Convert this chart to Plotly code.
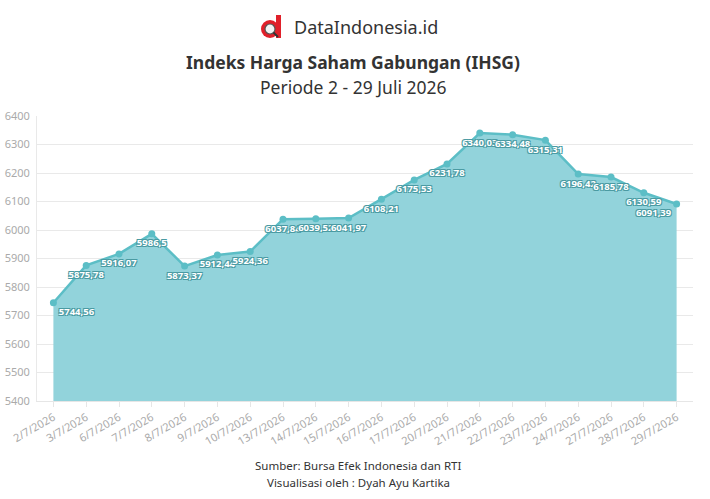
import plotly.graph_objects as go

dates = ["2/7/2026", "3/7/2026", "6/7/2026", "7/7/2026", "8/7/2026", "9/7/2026",
         "10/7/2026", "13/7/2026", "14/7/2026", "15/7/2026", "16/7/2026", "17/7/2026",
         "20/7/2026", "21/7/2026", "22/7/2026", "23/7/2026", "24/7/2026", "27/7/2026",
         "28/7/2026", "29/7/2026"]
ihsg = [5744.56, 5875.78, 5916.07, 5986.5, 5873.37, 5912.44, 5924.36, 6037.84,
        6039.52, 6041.97, 6108.21, 6175.53, 6231.78, 6340.03, 6334.48, 6315.31,
        6196.42, 6185.78, 6130.59, 6091.39]
y_ticks = [5400, 5500, 5600, 5700, 5800, 5900, 6000, 6100, 6200, 6300, 6400]

def fmt(v):
    s = ("%.2f" % v).rstrip("0").rstrip(".")
    return s.replace(".", ",")

labels = [fmt(v) for v in ihsg]
positions = ["bottom right"] + ["bottom center"] * (len(ihsg) - 2) + ["bottom left"]

FILL = "rgb(146,211,219)"
LINE = "rgb(92,190,198)"

L, R, T, B = 37, 17, 116, 98
W, H = 710, 499

fig = go.Figure()
fig.add_trace(go.Scatter(
    x=dates, y=ihsg, mode="lines+markers+text",
    fill="tozeroy", fillcolor=FILL,
    line=dict(color=LINE, width=2.5),
    marker=dict(color=LINE, size=7),
    text=labels, textposition=positions,
    textfont=dict(family="Noto Sans", size=9.5, color="white", weight="bold",
                  shadow="1px 1px 0 #4a9aa2, -1px -1px 0 #4a9aa2, 1px -1px 0 #4a9aa2, -1px 1px 0 #4a9aa2"),
    cliponaxis=False, showlegend=False, hoverinfo="skip",
))

fig.update_layout(
    width=W, height=H,
    margin=dict(l=L, r=R, t=T, b=B),
    paper_bgcolor="white", plot_bgcolor="white",
    font=dict(family="Noto Sans", color="#333"),
    xaxis=dict(
        type="category", range=[-0.5, len(dates) - 0.5], automargin=False,
        tickangle=-30, tickfont=dict(size=11, color="#aaa"),
        showgrid=False, showline=True, linecolor="#e6e6e6", linewidth=1,
        ticks="outside", ticklen=5, tickcolor="#e6e6e6",
    ),
    yaxis=dict(
        range=[5400, 6400], tickvals=y_ticks, automargin=False,
        tickfont=dict(size=11, color="#aaa"),
        showgrid=True, gridcolor="#e9e9e9", gridwidth=1,
        showline=True, linecolor="#e9e9e9", zeroline=False,
        ticklabelstandoff=4,
    ),
)

def px(xp):
    return (xp - L) / (W - L - R)

def py(yp):
    return (H - B - yp) / (H - T - B)

annos = [
    dict(text="DataIndonesia.id", x=366, y=27, size=18, color="#333"),
    dict(text="<b>Indeks Harga Saham Gabungan (IHSG)</b>", x=353, y=62, size=17.5, color="#333"),
    dict(text="Periode 2 - 29 Juli 2026", x=353, y=87, size=17.5, color="#333"),
    dict(text="Sumber: Bursa Efek Indonesia dan RTI", x=358, y=465, size=11.5, color="#333"),
    dict(text="Visualisasi oleh : Dyah Ayu Kartika", x=358, y=482, size=11.5, color="#333"),
]
for a in annos:
    fig.add_annotation(
        xref="paper", yref="paper", x=px(a["x"]), y=py(a["y"]),
        xanchor="center", yanchor="middle", showarrow=False, text=a["text"],
        font=dict(family="Noto Sans", size=a["size"], color=a["color"]),
    )

# Logo (red "d" with magnifier)
fig.add_shape(type="circle", xref="paper", yref="paper",
              x0=px(261), x1=px(279), y0=py(38), y1=py(20),
              fillcolor="#e0202a", line=dict(width=0))
fig.add_shape(type="rect", xref="paper", yref="paper",
              x0=px(276), x1=px(281), y0=py(38), y1=py(15),
              fillcolor="#e0202a", line=dict(width=0))
fig.add_shape(type="circle", xref="paper", yref="paper",
              x0=px(265), x1=px(275), y0=py(34), y1=py(24),
              fillcolor="#f3f3f3", line=dict(color="#555", width=1.2))
fig.add_shape(type="line", xref="paper", yref="paper",
              x0=px(273.5), x1=px(278), y0=py(32.5), y1=py(37),
              line=dict(color="#333", width=2))

fig.write_html("out.html")
